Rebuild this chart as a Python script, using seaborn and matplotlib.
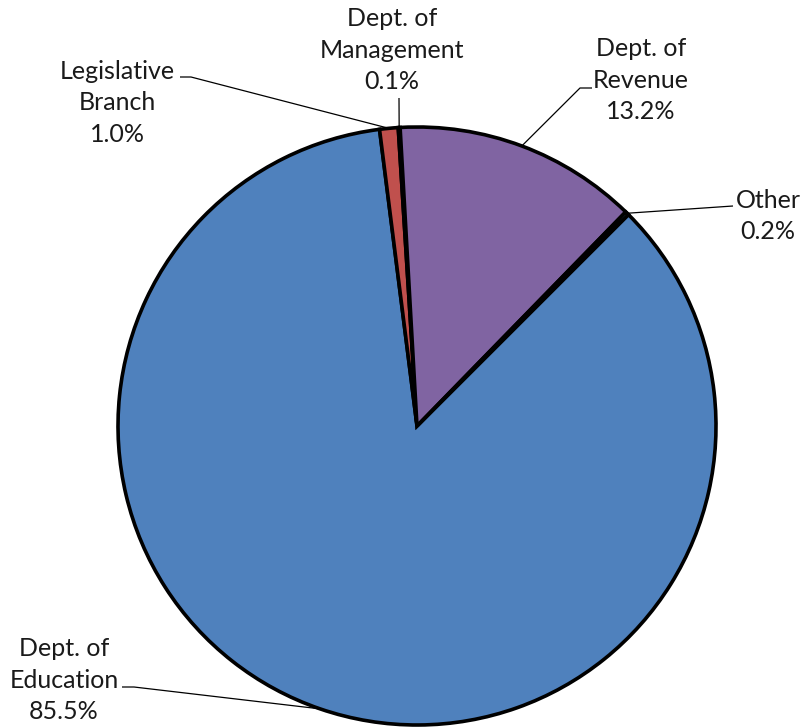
import numpy as np
import matplotlib
matplotlib.use("Agg")
import matplotlib.pyplot as plt
import seaborn as sns

categories = ["Dept. of\nEducation", "Legislative\nBranch", "Dept. of\nManagement", "Dept. of\nRevenue", "Other"]
values = [85.5, 1.0, 0.1, 13.2, 0.2]
colors = ["#4F81BD", "#C0504D", "#9BBB59", "#8064A2", "#4BACC6"]

sns.set_theme(style="white")
plt.rcParams["font.family"] = ["Lato", "DejaVu Sans"]

W, H = 800, 727
CX, CY, R = 417, 426, 299
fig = plt.figure(figsize=(W / 100, H / 100), dpi=100)
ax = fig.add_axes([0, 0, 1, 1])
ax.axis("off")

def p2d(px, py):
    return ((px - CX) / R, (CY - py) / R)

wedges, _ = ax.pie(values, colors=colors, startangle=45, counterclock=False,
                   radius=1, center=(0, 0),
                   wedgeprops=dict(edgecolor="black", linewidth=2.6))
ax.set_xlim(-CX / R, (W - CX) / R)
ax.set_ylim(-(H - CY) / R, CY / R)

# label layout: text centre (px), leader path (px) from text side toward wedge
layout = [
    dict(text=(64, 680), path=[(122, 687), (134, 687)]),
    dict(text=(117, 103), path=[(180, 77), (191, 77)]),
    dict(text=(392, 50), path=[(399, 98)]),
    dict(text=(641, 80), path=[(592, 88), (580, 88)]),
    dict(text=(768, 216), path=[(733, 206)]),
]

for w, lab, v, lay in zip(wedges, categories, values, layout):
    mid = np.deg2rad((w.theta1 + w.theta2) / 2)
    ax_, ay_ = np.cos(mid), np.sin(mid)
    pts = [p2d(*p) for p in lay["path"]] + [(ax_, ay_)]
    xs, ys = zip(*pts)
    ax.plot(xs, ys, color="black", lw=0.9, solid_capstyle="butt")
    tx, ty = p2d(*lay["text"])
    ax.text(tx, ty, f"{lab}\n{v:.1f}%", ha="center", va="center",
            fontsize=18, linespacing=1.45, color="#1a1a1a")

fig.savefig("out.png", dpi=100)
